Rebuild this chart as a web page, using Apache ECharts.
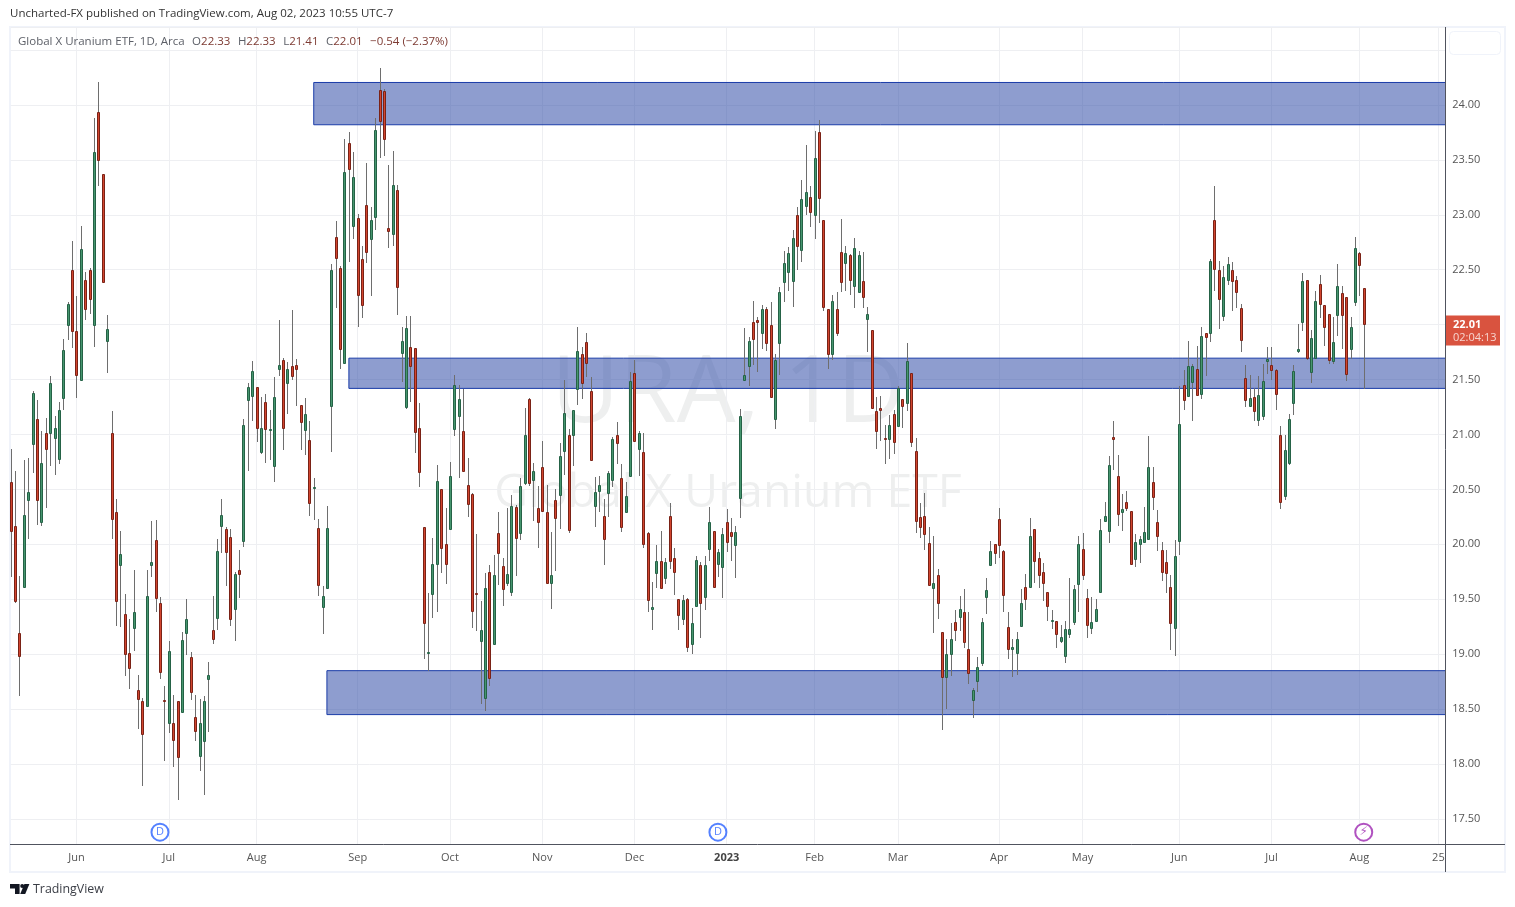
<!DOCTYPE html>
<html lang="en">
<head>
<meta charset="UTF-8">
<title>URA 1D</title>
<style>
  html, body { margin: 0; padding: 0; background: #fff; }
  #container { width: 1515px; height: 907px; }
</style>
</head>
<body>
<div id="container"></div>
<script src="https://cdn.jsdelivr.net/npm/echarts@6/dist/echarts.min.js"></script>
<script type="text/javascript">
// daily prices, 0 = first bar on the left, 308 = Aug 2 2023
var opens = [
  20.57,20.17,19.19,19.61,20.40,20.91,21.14,20.20,21.01,21.01,
  20.97,20.78,21.33,22.00,22.50,21.94,21.50,22.41,22.50,22.00,
  23.94,23.37,21.85,21.01,20.29,19.81,19.37,19.01,19.24,18.67,
  18.57,18.53,19.81,20.04,19.47,18.58,18.37,18.37,18.57,18.47,
  19.19,18.97,18.43,18.07,18.21,18.77,19.22,19.33,20.17,20.14,
  20.07,19.41,19.77,20.03,21.31,21.35,21.43,20.84,21.30,21.04,
  20.71,21.60,21.68,21.47,21.62,21.63,21.27,21.04,20.95,20.51,
  20.15,19.43,19.60,21.26,22.80,22.52,21.65,23.65,22.90,22.97,
  22.60,23.09,22.78,22.98,24.14,24.13,22.88,22.83,23.23,21.74,
  21.25,21.80,21.79,21.06,20.16,19.01,19.55,19.82,20.50,20.00,
  20.14,21.05,21.17,21.03,20.54,20.46,19.56,19.12,18.60,19.75,
  19.09,20.10,19.80,19.65,19.57,20.34,20.10,20.56,21.32,20.59,
  20.33,20.70,20.29,19.65,20.40,20.45,20.85,21.00,21.00,21.41,
  21.73,21.84,21.40,20.35,20.49,20.26,20.47,20.59,21.00,20.60,
  20.29,20.62,21.56,20.87,20.84,20.10,19.41,19.74,19.85,19.69,
  20.26,19.88,19.50,19.32,19.50,19.09,19.44,19.81,19.52,19.96,
  20.12,19.82,19.79,20.20,20.11,19.99,20.42,21.50,21.62,22.02,
  22.04,21.92,22.14,22.00,21.14,21.83,22.39,22.48,22.40,23.00,
  22.68,23.08,23.16,23.00,23.75,22.95,22.14,21.73,22.14,22.66,
  22.56,22.63,22.35,22.30,22.40,22.05,21.95,21.21,21.24,20.97,
  20.96,21.19,21.08,21.32,21.29,21.56,20.85,20.25,20.26,20.01,
  19.60,19.72,19.20,18.79,19.00,19.29,19.34,19.38,19.05,18.58,
  18.76,18.92,19.52,19.81,20.00,20.23,19.94,19.25,19.05,19.01,
  19.26,19.61,19.61,20.14,19.88,19.75,19.57,19.30,19.30,19.12,
  18.98,19.18,19.29,19.64,19.96,19.51,19.24,19.30,19.57,20.21,
  20.12,20.98,20.62,20.29,20.39,20.30,19.87,20.00,20.02,20.05,
  20.57,20.20,19.95,19.84,19.61,19.24,20.03,21.45,21.35,21.48,
  21.60,21.37,21.92,21.92,22.95,22.50,22.08,22.41,22.50,22.41,
  22.15,21.51,21.26,21.34,21.13,21.17,21.67,21.63,21.59,21.00,
  20.44,20.74,21.29,21.76,22.02,22.41,21.57,21.70,22.37,22.18,
  22.10,21.67,22.09,22.29,22.25,21.78,22.21,22.65,22.33
];
var closes = [
  20.12,19.48,18.98,20.27,20.48,21.38,20.40,20.74,20.87,21.47,
  21.06,21.22,21.77,22.19,21.94,21.54,22.69,22.14,22.23,23.57,
  23.50,22.39,21.96,20.23,19.48,19.91,19.00,18.87,19.38,18.59,
  18.27,19.53,19.84,19.51,18.84,18.57,19.03,18.22,18.06,19.13,
  19.32,18.66,18.30,18.37,18.57,18.81,19.14,19.94,20.27,19.93,
  19.32,19.73,19.73,21.09,21.43,21.58,21.06,21.06,21.05,21.05,
  21.34,21.63,21.06,21.60,21.53,21.60,21.11,21.19,20.38,20.52,
  19.63,19.53,20.15,22.50,22.61,21.78,23.39,23.42,23.34,22.27,
  22.18,22.66,22.95,23.77,23.85,23.69,22.85,23.27,22.34,21.85,
  21.97,21.62,21.02,20.66,19.28,19.02,19.82,20.58,19.97,19.82,
  20.62,21.45,21.32,20.67,20.37,19.39,19.55,19.22,19.60,18.78,
  19.72,19.92,19.59,19.73,20.35,20.06,20.53,21.00,20.56,20.67,
  20.20,20.30,19.65,19.72,20.24,20.80,21.20,20.13,21.22,21.76,
  21.47,21.65,20.77,20.48,20.54,20.05,20.65,20.96,20.92,20.16,
  20.44,21.49,20.94,21.01,20.00,19.49,19.43,19.85,19.60,19.84,
  19.85,19.75,19.36,19.49,19.07,19.28,19.86,19.47,19.81,20.20,
  19.61,19.93,20.09,20.02,20.08,20.11,21.17,21.54,21.85,21.87,
  22.02,22.14,21.83,21.34,21.68,22.30,22.56,22.65,22.79,22.72,
  23.14,23.21,23.03,23.52,23.15,22.16,21.73,22.22,21.92,22.39,
  22.65,22.41,22.70,22.63,22.25,22.10,21.24,21.03,21.22,20.96,
  21.09,20.93,21.42,21.26,21.67,20.93,20.21,20.16,20.09,19.63,
  19.65,19.47,18.79,19.00,19.14,19.22,19.41,19.11,18.83,18.67,
  18.88,19.29,19.58,19.94,19.92,19.99,19.54,19.05,19.07,19.14,
  19.47,19.50,20.08,19.85,19.72,19.65,19.44,19.31,19.18,19.16,
  19.23,19.23,19.59,20.00,19.72,19.27,19.29,19.41,20.13,20.26,
  20.72,20.96,20.28,20.32,20.33,19.82,20.02,20.05,20.11,20.70,
  20.43,20.08,19.75,19.74,19.28,19.89,21.10,21.31,21.62,21.62,
  21.36,21.90,21.89,22.58,22.51,22.23,22.43,22.55,22.40,22.30,
  21.86,21.31,21.33,21.21,21.36,21.49,21.69,21.59,21.37,20.39,
  20.86,21.14,21.58,21.78,22.40,21.70,21.88,22.22,22.19,21.98,
  21.68,21.84,22.35,22.09,21.55,21.98,22.70,22.54,22.01
];
var highs = [
  20.87,20.67,19.71,20.77,20.79,21.40,21.31,21.03,21.15,21.53,
  21.17,21.30,21.87,22.21,22.76,22.26,22.90,22.48,22.52,23.88,
  24.21,23.37,22.09,21.21,20.41,20.12,19.55,19.32,19.77,18.81,
  18.60,19.77,20.21,20.22,19.52,18.71,19.12,18.63,18.57,19.20,
  19.50,19.02,18.63,18.59,18.62,18.93,19.53,20.05,20.41,20.16,
  20.14,19.75,19.95,21.14,21.47,21.67,21.43,21.34,21.37,21.22,
  21.52,22.04,21.70,21.66,22.13,21.69,21.27,21.33,21.12,20.60,
  20.23,19.62,20.35,22.55,22.94,22.53,23.69,23.75,23.57,23.01,
  22.72,23.47,23.07,23.88,24.34,24.15,23.45,23.58,23.27,21.98,
  22.08,22.08,21.79,21.29,20.16,19.56,20.06,20.72,20.50,20.33,
  20.75,21.54,21.45,21.41,20.79,20.47,20.09,19.48,19.74,19.81,
  19.90,20.29,19.88,20.33,20.45,20.36,20.60,21.24,21.33,20.74,
  20.53,20.94,20.54,20.11,20.50,20.92,21.50,21.05,21.22,21.98,
  21.80,21.92,21.52,20.61,20.62,20.41,20.67,20.98,21.11,20.73,
  20.57,21.57,21.68,21.03,21.01,20.11,19.66,19.99,20.12,19.88,
  20.38,19.97,19.50,19.54,19.51,19.42,19.89,19.84,19.89,20.34,
  20.12,19.96,20.15,20.32,20.24,20.17,21.23,21.97,21.89,22.22,
  22.07,22.18,22.16,22.21,21.73,22.34,22.67,22.71,22.86,23.07,
  23.32,23.64,23.26,23.76,23.86,22.95,22.14,22.27,22.30,22.96,
  22.72,22.64,22.79,22.67,22.66,22.16,21.95,21.34,21.35,21.09,
  21.18,21.22,21.44,21.32,21.83,21.56,20.97,20.38,20.47,20.16,
  20.08,19.78,19.20,19.14,19.28,19.40,19.53,19.59,19.38,18.69,
  18.97,19.33,19.69,20.03,20.00,20.33,19.95,19.38,19.14,19.20,
  19.59,19.73,20.24,20.14,19.93,19.83,19.57,19.40,19.30,19.27,
  19.30,19.69,19.63,20.08,20.10,19.59,19.52,19.50,20.23,20.39,
  20.80,21.12,20.81,20.46,20.49,20.30,20.09,20.08,20.34,20.99,
  20.70,20.31,20.02,19.95,19.72,20.04,21.44,21.59,21.85,21.64,
  21.81,21.98,21.92,22.60,23.26,22.58,22.53,22.62,22.57,22.44,
  22.19,21.63,21.54,21.42,21.53,21.64,21.80,21.80,21.60,21.08,
  21.00,21.19,21.63,22.01,22.47,22.41,21.95,22.31,22.45,22.18,
  22.10,22.07,22.55,22.35,22.25,22.07,22.80,22.66,22.33
];
var lows = [
  19.70,19.47,18.62,19.61,20.05,20.65,20.18,20.17,20.33,20.71,
  20.63,20.73,21.22,21.86,21.79,21.33,21.50,22.04,22.10,21.80,
  23.26,22.38,21.56,20.05,19.26,19.25,18.80,18.68,19.03,18.32,
  17.80,18.53,19.70,19.38,18.77,18.03,18.28,17.97,17.67,18.47,
  18.99,18.58,18.21,17.94,17.72,18.29,19.09,19.22,19.92,19.62,
  19.26,19.12,19.51,19.98,20.67,21.12,20.93,20.82,20.74,20.77,
  20.57,21.53,20.86,21.19,21.50,21.26,20.86,20.81,20.26,20.22,
  19.53,19.18,19.59,20.84,22.15,21.60,21.65,22.57,22.78,21.98,
  22.06,22.56,22.26,22.86,23.52,23.54,22.70,22.72,22.09,21.48,
  21.23,21.30,20.83,20.52,18.96,18.85,19.33,19.38,19.74,19.64,
  20.14,20.99,20.60,20.67,20.25,19.24,19.21,18.55,18.48,18.71,
  19.09,19.63,19.44,19.62,19.53,19.71,20.04,20.54,20.53,20.21,
  19.97,20.29,19.65,19.41,19.76,20.14,20.63,20.10,20.71,21.27,
  21.32,21.52,20.77,20.16,20.29,19.81,20.25,20.52,20.73,20.11,
  20.29,20.62,20.94,20.62,19.97,19.38,19.22,19.60,19.59,19.64,
  19.78,19.54,19.22,19.27,19.02,19.00,19.44,19.15,19.40,19.85,
  19.60,19.70,19.51,19.93,19.85,19.69,20.24,21.49,21.44,21.63,
  21.57,21.78,21.76,21.34,21.05,21.54,22.21,22.31,22.16,22.50,
  22.57,23.00,22.89,22.78,22.93,22.12,21.60,21.68,21.90,22.30,
  22.31,22.27,22.15,22.29,22.15,21.75,21.24,20.87,20.94,20.73,
  20.78,20.82,21.08,21.06,21.21,20.89,20.10,20.06,19.95,19.62,
  19.19,19.32,18.31,18.50,18.80,19.12,19.21,19.06,18.73,18.42,
  18.66,18.89,19.37,19.81,19.82,19.88,19.38,18.96,18.79,18.81,
  19.26,19.40,19.61,19.65,19.60,19.48,19.30,19.23,19.06,19.10,
  18.92,19.15,19.27,19.38,19.68,19.15,19.18,19.30,19.57,20.20,
  20.01,20.68,20.17,20.12,20.30,19.81,19.79,19.83,20.02,20.05,
  20.31,19.94,19.67,19.56,19.04,18.98,19.90,21.22,21.35,21.12,
  21.36,21.32,21.53,21.84,22.31,21.96,22.03,22.36,22.12,22.15,
  21.75,21.25,21.26,21.12,21.08,21.13,21.55,21.50,21.22,20.32,
  20.40,20.72,21.18,21.74,21.94,21.68,21.47,21.70,22.06,21.81,
  21.64,21.64,21.90,21.78,21.49,21.69,22.17,22.26,21.41
];

var slotCount = 328;   // bars plus the empty space up to the price scale
var tickIdx = [15,36,56,79,100,121,142,163,183,202,225,244,266,287,307,325];
var tickLabels = ['Jun','Jul','Aug','Sep','Oct','Nov','Dec','2023','Feb','Mar','Apr','May','Jun','Jul','Aug','25'];

// supply / demand zones: first slot, upper price, lower price
var zoneStart = [69, 77, 72];
var zoneEnd = 326.6;
var zoneTop = [24.205, 21.695, 18.85];
var zoneBottom = [23.82, 21.42, 18.45];

// dividend and earnings style markers under the bars
var eventIdx = [34, 161, 308];
var eventText = ['D', 'D', '\u26A1'];
var eventPrice = 17.38;

var categories = [];
for (var i = 0; i < slotCount; i++) {
  var t = tickIdx.indexOf(i);
  categories.push(t >= 0 ? tickLabels[t] : 'd' + i);
}

var candleData = [];
for (var i = 0; i < opens.length; i++) {
  candleData.push([i, opens[i], closes[i], lows[i], highs[i]]);
}

var zonePairs = zoneStart.map(function (s, k) {
  return [
    { xAxis: s, yAxis: zoneTop[k] },
    { xAxis: zoneEnd, yAxis: zoneBottom[k] }
  ];
});

var isTick = function (idx) { return tickIdx.indexOf(idx) >= 0; };
var uiFont = '"Open Sans", sans-serif';
var gridColor = '#eeeff2';

// snap each candle to whole pixels so every body comes out 3px wide
function renderCandle(params, api) {
  var idx = api.value(0), o = api.value(1), c = api.value(2);
  var col = Math.round(api.coord([idx, o])[0]);
  var yTop = Math.round(api.coord([idx, Math.max(o, c)])[1]);
  var yBot = Math.round(api.coord([idx, Math.min(o, c)])[1]);
  var yHigh = Math.round(api.coord([idx, api.value(4)])[1]);
  var yLow = Math.round(api.coord([idx, api.value(3)])[1]);
  if (yBot - yTop < 1) yBot = yTop + 1;
  var up = c >= o;
  return {
    type: 'group',
    children: [
      {
        type: 'line',
        shape: { x1: col + 0.5, y1: yHigh, x2: col + 0.5, y2: yLow },
        style: { stroke: '#6e6e6e', lineWidth: 1 }
      },
      {
        type: 'rect',
        shape: { x: col - 0.5, y: yTop + 0.5, width: 2, height: yBot - yTop },
        style: { fill: up ? '#46966f' : '#d2452f', stroke: up ? '#256246' : '#7a2216', lineWidth: 1 }
      }
    ]
  };
}

var dom = document.getElementById('container');
var myChart = echarts.init(dom);

var option = {
  animation: false,
  backgroundColor: '#fff',
  title: [
    {
      text: 'Uncharted-FX published on TradingView.com, Aug 02, 2023 10:55 UTC-7',
      left: 10, top: 8, padding: 0,
      textStyle: { fontFamily: uiFont, fontSize: 11.5, fontWeight: 'normal', color: '#333' }
    },
    {
      text: '{n|Global X Uranium ETF, 1D, Arca}{g| }{n|O}{v|22.33}{g| }{n|H}{v|22.33}{g| }{n|L}{v|21.41}{g| }{n|C}{v|22.01}{g| }{v|\u22120.54 (\u22122.37%)}',
      left: 18, top: 36, padding: 0,
      textStyle: {
        fontFamily: uiFont, fontSize: 11.5, fontWeight: 'normal',
        rich: {
          n: { fontFamily: uiFont, fontSize: 11.5, color: '#5d6068' },
          v: { fontFamily: uiFont, fontSize: 11.5, color: '#7d3a32' },
          g: { fontFamily: uiFont, fontSize: 11.5, width: 7.5 }
        }
      }
    }
  ],
  grid: { left: 10.6, top: 27, width: 1436.6, height: 817, containLabel: false },
  xAxis: {
    type: 'category',
    boundaryGap: false,
    data: categories,
    axisLine: { show: false },
    axisTick: { show: false },
    axisLabel: {
      interval: function (idx) { return isTick(idx); },
      margin: 8,
      fontFamily: uiFont,
      fontSize: 11,
      color: '#555',
      formatter: function (v) { return v === '2023' ? '{y|2023}' : v; },
      rich: { y: { fontFamily: uiFont, fontSize: 11, fontWeight: 'bold', color: '#444' } }
    },
    splitLine: {
      show: true,
      interval: function (idx) { return isTick(idx); },
      lineStyle: { color: gridColor, width: 1 }
    }
  },
  yAxis: {
    type: 'value',
    position: 'right',
    scale: true,
    min: 17.272,
    max: 24.71,
    splitNumber: 15,
    axisLine: { show: false },
    axisTick: { show: false },
    axisLabel: {
      margin: 5,
      padding: [4, 0, 0, 0],
      showMinLabel: false,
      showMaxLabel: false,
      fontFamily: uiFont,
      fontSize: 11,
      color: '#555',
      formatter: function (v) { return v.toFixed(2); }
    },
    splitLine: { show: true, lineStyle: { color: gridColor, width: 1 } }
  },
  series: [
    {
      // zones sit behind the candles
      type: 'line',
      z: 1,
      data: [],
      silent: true,
      markArea: {
        silent: true,
        itemStyle: { color: 'rgba(49,77,167,0.55)', borderColor: '#1a3ca8', borderWidth: 1 },
        data: zonePairs
      }
    },
    {
      type: 'custom',
      z: 3,
      clip: true,
      silent: true,
      renderItem: renderCandle,
      encode: { x: 0, y: [1, 2, 3, 4] },
      data: candleData
    },
    {
      type: 'scatter',
      z: 5,
      symbol: 'circle',
      symbolSize: 17,
      silent: true,
      data: eventIdx.map(function (x, k) {
        var purple = eventText[k] !== 'D';
        return {
          value: [x, eventPrice],
          itemStyle: { color: '#fff', borderColor: purple ? '#9c27b0' : '#2962ff', borderWidth: 2 },
          label: {
            show: true, position: 'inside', formatter: eventText[k],
            fontFamily: purple ? 'DejaVu Sans' : uiFont, fontSize: purple ? 12 : 11,
            color: purple ? '#9c27b0' : '#2962ff'
          }
        };
      })
    }
  ]
};
myChart.setOption(option);

// page furniture around the plot, last price tag follows the y scale
var lastClose = closes[closes.length - 1];
var tagY = myChart.convertToPixel({ yAxisIndex: 0 }, lastClose);
myChart.setOption({
  graphic: [
    { type: 'rect', z: -10, shape: { x: 10, y: 27, width: 1495, height: 845 }, style: { fill: 'none', stroke: '#f0f3fa', lineWidth: 2 } },
    { type: 'rect', z: 9, shape: { x: 1446, y: 28, width: 2, height: 816 }, style: { fill: '#fff' } },
    { type: 'line', z: 10, shape: { x1: 1445.5, y1: 27, x2: 1445.5, y2: 872 }, style: { stroke: '#50535e', lineWidth: 1 } },
    { type: 'line', z: 10, shape: { x1: 10, y1: 844.5, x2: 1505, y2: 844.5 }, style: { stroke: '#50535e', lineWidth: 1 } },
    { type: 'rect', z: 10, shape: { x: 1449.5, y: 31.5, width: 51, height: 23, r: 4 }, style: { fill: '#fff', stroke: '#f0f3fa', lineWidth: 1 } },
    { type: 'text', z: -5, style: { x: 728, y: 395, text: 'URA, 1D', fill: 'rgba(42,46,57,0.08)', font: '93px "Open Sans", sans-serif', align: 'center', verticalAlign: 'middle' } },
    { type: 'text', z: -5, style: { x: 728, y: 494, text: 'Global X Uranium ETF', fill: 'rgba(42,46,57,0.08)', font: '46.4px "Open Sans", sans-serif', align: 'center', verticalAlign: 'middle' } },
    { type: 'rect', z: 10, shape: { x: 1446, y: tagY - 8, width: 54, height: 30 }, style: { fill: '#d9533f' } },
    { type: 'text', z: 11, style: { x: 1453, y: tagY + 1, text: lastClose.toFixed(2), fill: '#fff', font: 'bold 11px "Open Sans", sans-serif', verticalAlign: 'middle' } },
    { type: 'text', z: 11, style: { x: 1453, y: tagY + 14, text: '02:04:13', fill: '#f7d5cf', font: '11px "Open Sans", sans-serif', verticalAlign: 'middle' } },
    { type: 'polygon', z: 10, shape: { points: [[10,884],[19.6,884],[19.6,894],[15,894],[15,888.6],[10,888.6]] }, style: { fill: '#131722' } },
    { type: 'circle', z: 10, shape: { cx: 22.2, cy: 886, r: 2 }, style: { fill: '#131722' } },
    { type: 'polygon', z: 10, shape: { points: [[24.4,884],[29.4,884],[25.2,894],[20.2,894]] }, style: { fill: '#131722' } },
    { type: 'text', z: 10, style: { x: 33, y: 889.5, text: 'TradingView', fill: '#3a3d45', font: '12.4px "Open Sans", sans-serif', verticalAlign: 'middle' } }
  ]
});
</script>
</body>
</html>
